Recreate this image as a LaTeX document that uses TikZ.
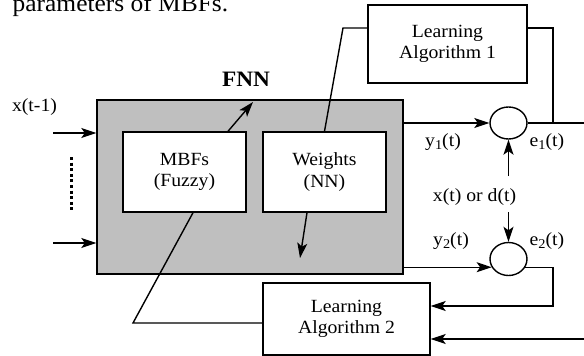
\documentclass[tikz,border=0pt]{standalone}
\usepackage{fontspec}
\setmainfont{Liberation Serif}[FakeStretch=1.06]
\usepackage{xcolor}
\usepackage{tikz}
\usetikzlibrary{shapes.geometric, arrows.meta, positioning, calc}
\newcommand{\idx}[1]{\raisebox{-0.3ex}{\fontsize{13.5}{13.5}\selectfont #1}}

\begin{document}
\begin{tikzpicture}[x=1pt,y=-1pt,line width=1.4pt,font=\fontsize{18.6}{21.5}\selectfont,%
blk/.style={draw,rectangle,black,fill=white,align=center,inner sep=0pt},%
sumnode/.style={draw,ellipse,black,fill=white,minimum width=37pt,minimum height=32pt,inner sep=0pt},%
lbl/.style={black,inner sep=0pt},%
arr/.style={-{Stealth[length=15pt,width=10pt,inset=3.5pt]}}]%
\useasboundingbox (0,0) rectangle (584,356);%
\node[lbl,anchor=base west,font=\fontsize{24}{24}\selectfont] (cap) at (12,11) {parameters of MBFs.};%
\node[blk,fill=gray!50,minimum width=306pt,minimum height=174pt] (fnn) at (250,187) {};%
\node[lbl,font=\fontsize{22}{22}\selectfont\bfseries] (fnnlbl) at (246,79) {FNN};%
\node[blk,minimum width=123pt,minimum height=80pt] (mbf) at (184.5,172) {MBFs\\(Fuzzy)};%
\node[blk,minimum width=123pt,minimum height=80pt] (wgt) at (324.5,172) {Weights\\(NN)};%
\node[blk,minimum width=159pt,minimum height=78pt] (la1) at (447.5,44) {Learning\\Algorithm 1};%
\node[blk,minimum width=167pt,minimum height=72pt] (la2) at (346.5,319) {Learning\\Algorithm 2};%
\node[sumnode] (sum1) at (508.5,123) {};%
\node[sumnode,minimum height=33pt] (sum2) at (508.5,259) {};%
\node[lbl] (xin) at (34.5,107) {x(t-1)};%
\node[lbl] (y1) at (443,142) {y\idx{1}(t)};%
\node[lbl] (e1) at (547,142) {e\idx{1}(t)};%
\node[lbl] (y2) at (451,241) {y\idx{2}(t)};%
\node[lbl] (e2) at (547,241) {e\idx{2}(t)};%
\node[lbl] (xd) at (474.5,197) {x(t) or d(t)};%
\coordinate (in1) at (53,133);%
\coordinate (in2) at (53,243);%
\coordinate (m1) at (253,102);%
\coordinate (m2) at (133,323);%
\coordinate (w1) at (343,28);%
\coordinate (w2) at (300,258);%
\coordinate (j1) at (553,123);%
\coordinate (o1) at (584,123);%
\coordinate (j2) at (553,306);%
\coordinate (o2) at (584,339);%
\coordinate (xdt) at (508.5,176);%
\coordinate (xdb) at (508.5,212);%
\draw[arr] (in1) -- (in1 -| fnn.west);%
\draw[arr] (in2) -- (in2 -| fnn.west);%
\draw[line width=3pt,dash pattern=on 3pt off 2.6pt] (71,157) -- (71,210);%
\draw[arr] ([xshift=43.5pt]mbf.north) -- (m1);%
\draw ([xshift=8.5pt]mbf.south) -- (m2) -- (m2 -| la2.west);%
\draw (wgt.north) -- (w1) -- (w1 -| la1.west);%
\draw[arr] ([xshift=-17.5pt]wgt.south) -- (w2);%
\draw (w1 -| la1.east) -| (j1);%
\draw[arr] (sum1.west -| fnn.east) -- (sum1.west);%
\draw (sum1.east) -- (o1);%
\draw[arr] (xdt) -- (sum1.south);%
\draw[arr] (xdb) -- (sum2.north);%
\draw[arr] (sum2.206 -| fnn.east) -- (sum2.206);%
\draw[arr] (sum2.334) -| (j2) -- (j2 -| la2.east);%
\draw[arr] (o2) -- (o2 -| la2.east);%
\end{tikzpicture}
\end{document}
